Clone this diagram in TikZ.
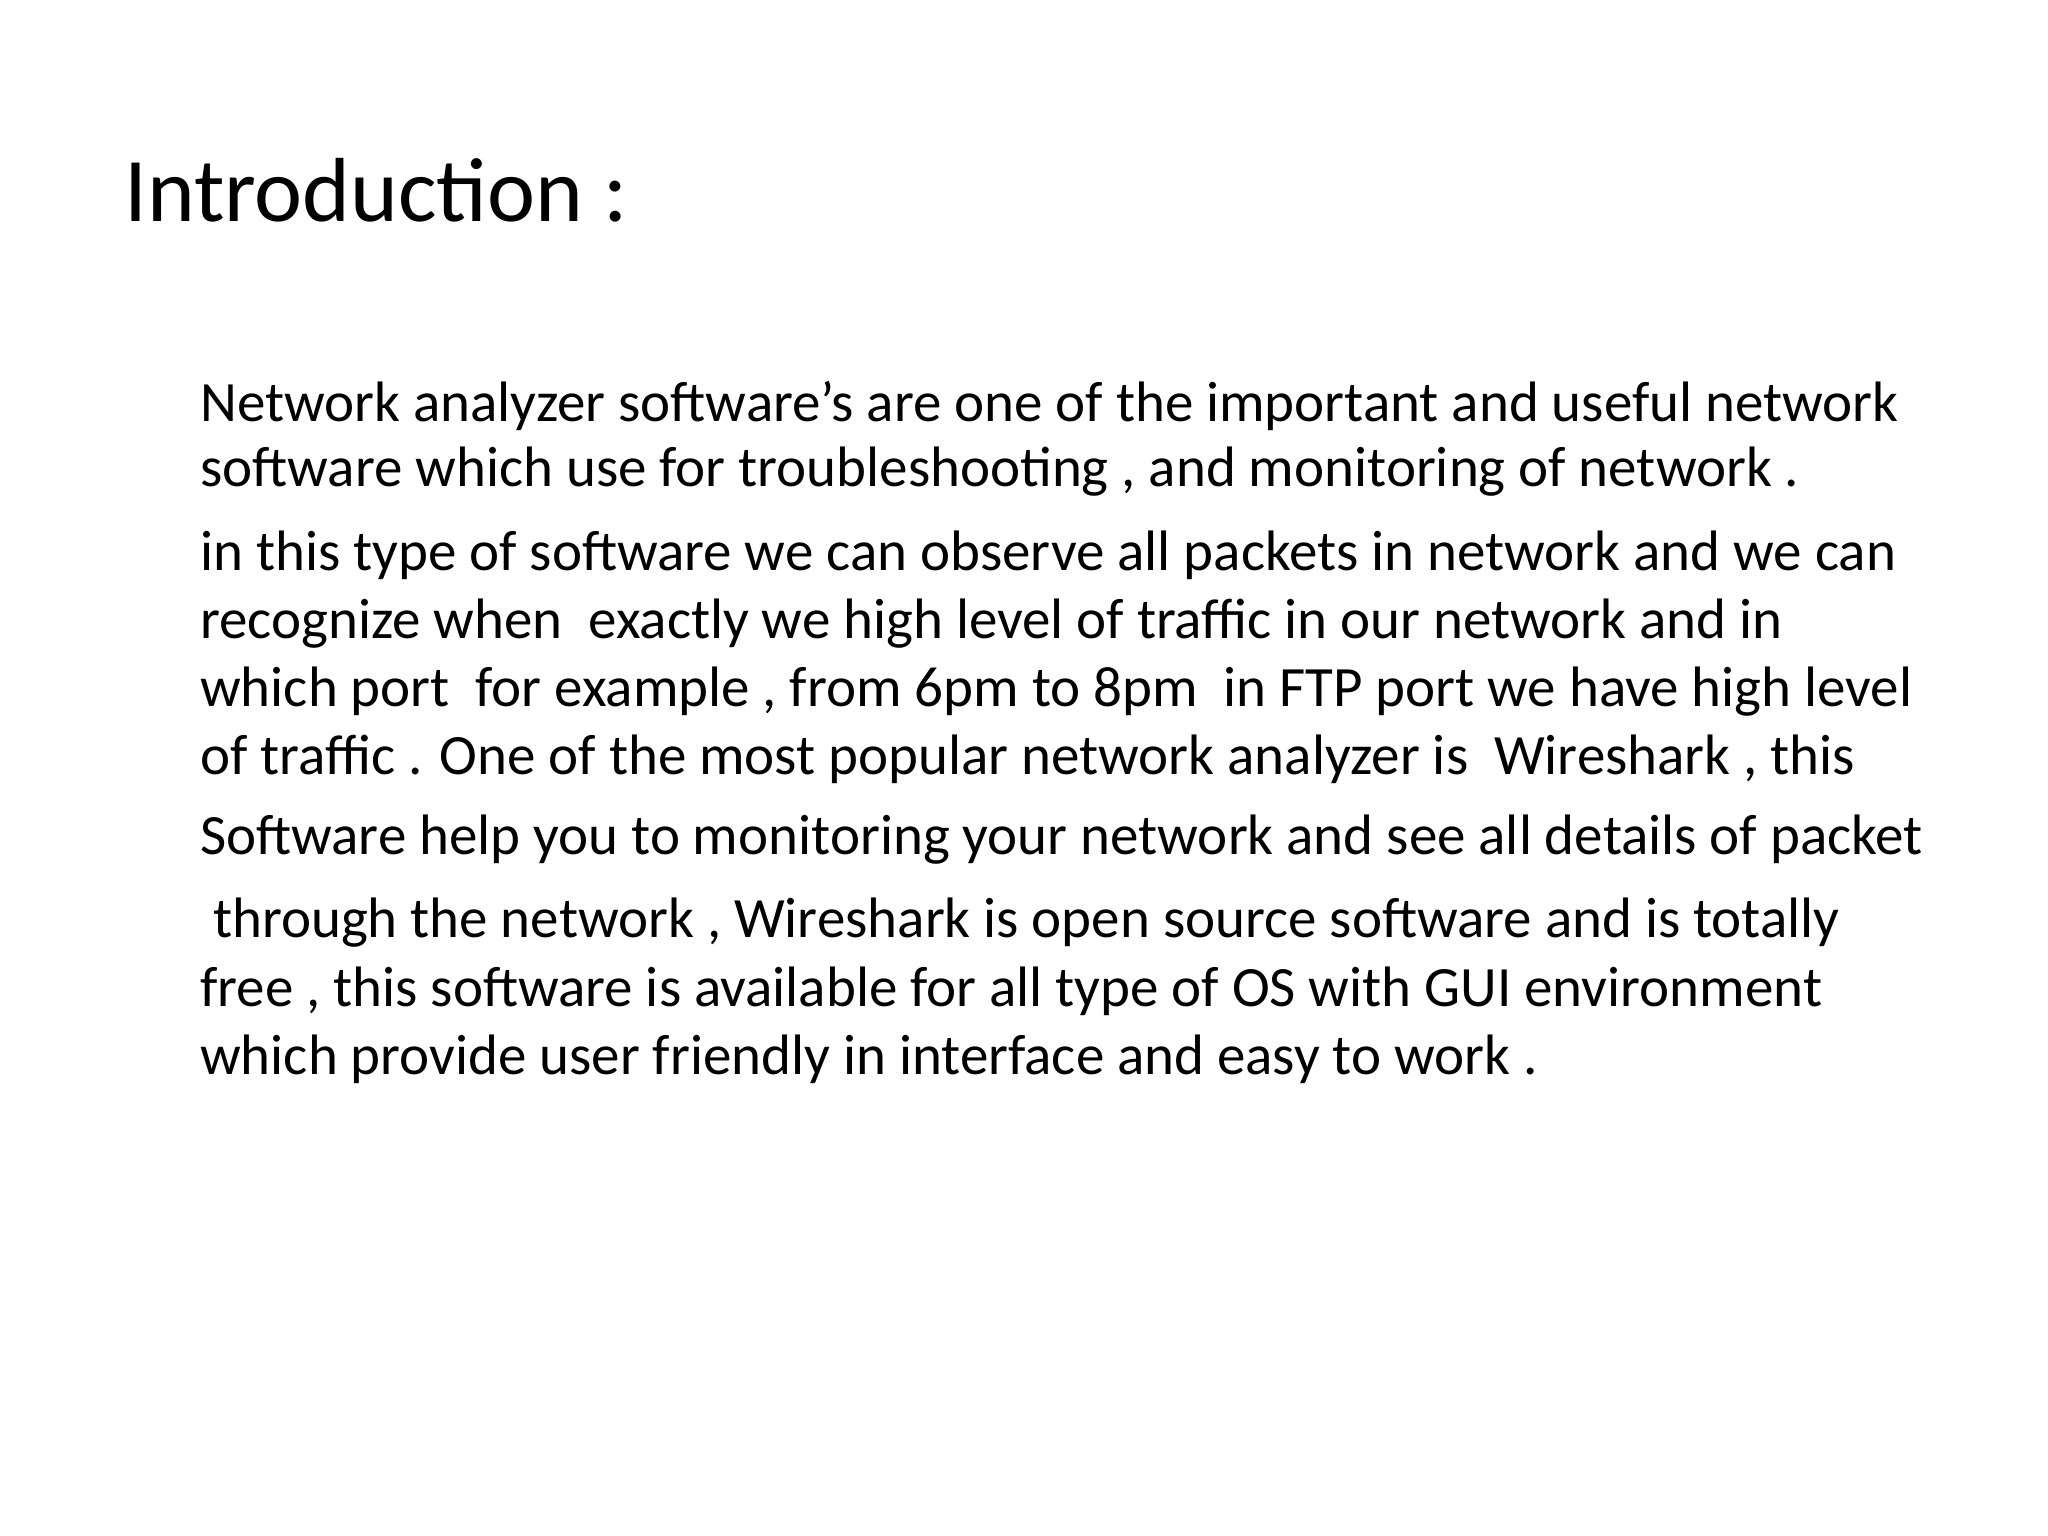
\documentclass[tikz,border=0pt]{standalone}
\usepackage{fontspec}
\setmainfont{Carlito}
\begin{document}
\begin{tikzpicture}[x=1pt,y=1pt,
  body/.style={anchor=base west,inner sep=0pt,font=\fontsize{57}{68}\selectfont},
  ttl/.style={anchor=base west,inner sep=0pt,font=\fontsize{91}{100}\selectfont}]
\useasboundingbox[fill=white] (0,0) rectangle (2048,1536);
\node[ttl] (t) at (124,1536-222) {Introduction :};
\node[body] (l1) at (200,1536-422) {Network analyzer software's are one of the important and useful network};
\node[body] (l2) at (200,1536-487) {software which use for troubleshooting , and monitoring of network .};
\node[body] (l3) at (200,1536-571) {in this type of software we can observe all packets in network and we can};
\node[body] (l4) at (200,1536-639) {recognize when\ \ exactly we high level of traffic in our network and in};
\node[body] (l5) at (200,1536-707) {which port\ \ for example , from 6pm to 8pm\ \ in FTP port we have high level};
\node[body] (l6) at (200,1536-775) {of traffic . One of the most popular network analyzer is\ \ Wireshark , this};
\node[body] (l7) at (200,1536-855) {Software help you to monitoring your network and see all details of packet};
\node[body] (l8) at (200,1536-938) {\ through the network , Wireshark is open source software and is totally};
\node[body] (l9) at (200,1536-1007) {free , this software is available for all type of OS with GUI environment};
\node[body] (l10) at (200,1536-1075) {which provide user friendly in interface and easy to work .};
\end{tikzpicture}
\end{document}
